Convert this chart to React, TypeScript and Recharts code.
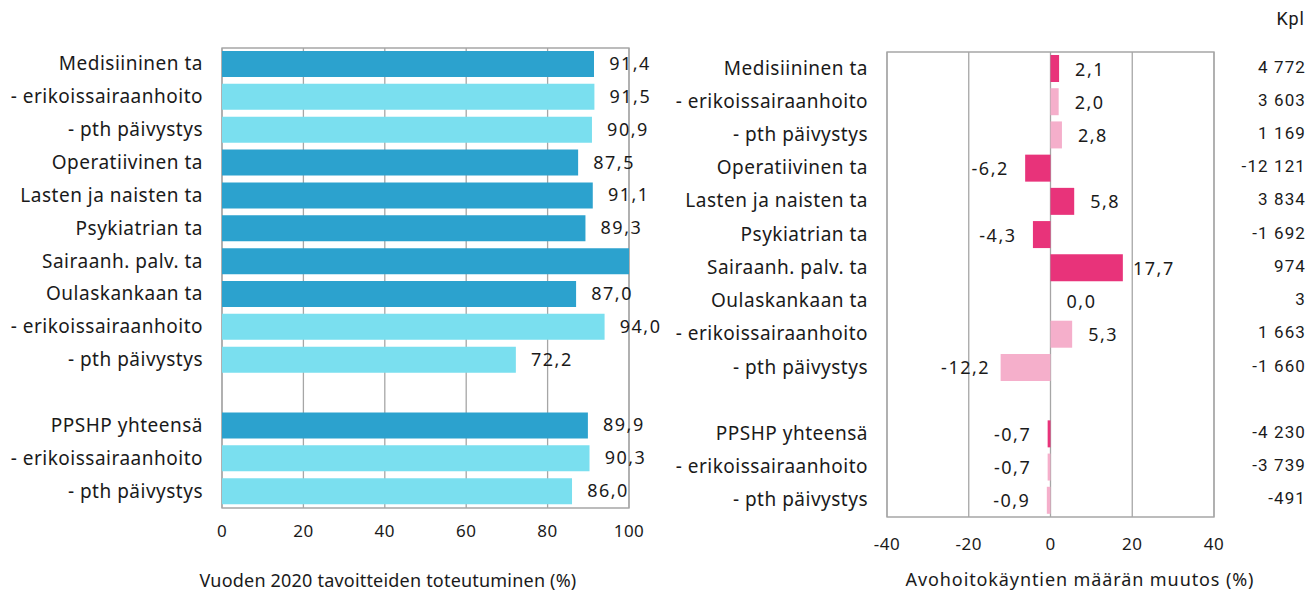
import React from "react";
import {
  BarChart,
  Bar,
  XAxis,
  YAxis,
  CartesianGrid,
  Cell,
  LabelList,
  ReferenceArea,
  Label,
} from "recharts";

// ---- data ----
const categories = [
  "Medisiininen ta",
  "- erikoissairaanhoito",
  "- pth päivystys",
  "Operatiivinen ta",
  "Lasten ja naisten ta",
  "Psykiatrian ta",
  "Sairaanh. palv. ta",
  "Oulaskankaan ta",
  "- erikoissairaanhoito",
  "- pth päivystys",
  "",
  "PPSHP yhteensä",
  "- erikoissairaanhoito",
  "- pth päivystys",
];
const isSubRow = [false, true, true, false, false, false, false, false, true, true, false, false, true, true];
const goalPct: (number | null)[] = [91.4, 91.5, 90.9, 87.5, 91.1, 89.3, 100.5, 87.0, 94.0, 72.2, null, 89.9, 90.3, 86.0];
const changePct: (number | null)[] = [2.1, 2.0, 2.8, -6.2, 5.8, -4.3, 17.7, 0.0, 5.3, -12.2, null, -0.7, -0.7, -0.9];
const kplValues = ["4 772", "3 603", "1 169", "-12 121", "3 834", "-1 692", "974", "3", "1 663", "-1 660", "", "-4 230", "-3 739", "-491"];
const leftTicks = [0, 20, 40, 60, 80, 100];
const rightTicks = [-40, -20, 0, 20, 40];
const leftTitle = "Vuoden 2020 tavoitteiden toteutuminen (%)";
const rightTitle = "Avohoitokäyntien määrän muutos (%)";
const kplHeader = "Kpl";

const rows = categories.map((c, i) => ({
  key: "r" + i,
  name: c,
  sub: isSubRow[i],
  goal: goalPct[i],
  change: changePct[i],
  kpl: kplValues[i],
}));
const nameOf = (k: string) => rows.find((r) => r.key === k)?.name ?? "";
const kplOf = (k: string) => rows.find((r) => r.key === k)?.kpl ?? "";

const FONT = "'Noto Sans', 'Open Sans', sans-serif";
const TXT = "#1a1a1a";
const fmt = (v: number) => v.toFixed(1).replace(".", ",");

const DARK_BLUE = "#2ca2ce";
const LIGHT_BLUE = "#7adfef";
const DARK_PINK = "#e8337a";
const LIGHT_PINK = "#f5afcb";
const GRID = "#a6a6a6";

const CatTick = (props: any) => {
  const { x, y, payload } = props;
  return (
    <text x={x} y={y} dy={6} textAnchor="end" fontFamily={FONT} fontSize={19} letterSpacing={0.5} fill={TXT}>
      {nameOf(payload.value)}
    </text>
  );
};

const KplTick = (props: any) => {
  const { x, y, payload } = props;
  return (
    <text x={x + 92} y={y} dy={4} textAnchor="end" fontFamily="Roboto, sans-serif" fontSize={17} letterSpacing={1.1} fill={TXT}>
      {kplOf(payload.value)}
    </text>
  );
};

const NumTick = (props: any) => {
  const { x, y, payload } = props;
  return (
    <text x={x} y={y} dy={12} textAnchor="middle" fontFamily={FONT} fontSize={17} letterSpacing={0.5} fill={TXT}>
      {payload.value}
    </text>
  );
};

const LeftValueLabel = (props: any) => {
  const { x, y, width, height, value } = props;
  if (value == null || value > 100) return null;
  return (
    <text x={x + width + 36} y={y + height / 2} dy={6} textAnchor="middle" fontFamily={FONT} fontSize={18} letterSpacing={1.5} fill={TXT}>
      {fmt(value)}
    </text>
  );
};

const RightValueLabel = (props: any) => {
  const { x, y, width, height, value } = props;
  if (value == null) return null;
  const neg = value < 0;
  const right = Math.max(x, x + width);
  const left = Math.min(x, x + width);
  const cx = neg ? left - 35 : right + 31;
  return (
    <text x={cx} y={y + height / 2} dy={7} textAnchor="middle" fontFamily={FONT} fontSize={18} letterSpacing={1.5} fill={TXT}>
      {fmt(value)}
    </text>
  );
};

export default function App() {
  return (
    <div style={{ position: "absolute", left: 0, top: 0, width: 1316, height: 597, background: "#fff", overflow: "hidden" }}>
      {/* left chart */}
      <div style={{ position: "absolute", left: 0, top: 0 }}>
        <BarChart
          width={690}
          height={597}
          data={rows}
          layout="vertical"
          margin={{ top: 48, right: 61, left: 0, bottom: 59 }}
          barSize={26}
        >
          <CartesianGrid horizontal={false} vertical stroke={GRID} strokeWidth={1.3} />
          <XAxis
            type="number"
            domain={[0, 100]}
            ticks={leftTicks}
            allowDataOverflow
            axisLine={false}
            tickLine={false}
            tickSize={0}
            tickMargin={17}
            height={30}
            tick={<NumTick />}
          >
            <Label
              content={() => (
                <text x={388} y={587} textAnchor="middle" fontFamily={FONT} fontSize={18} letterSpacing={0.2} fill={TXT}>
                  {leftTitle}
                </text>
              )}
            />
          </XAxis>
          <YAxis
            type="category"
            dataKey="key"
            width={222}
            axisLine={false}
            tickLine={false}
            tickSize={0}
            tickMargin={19}
            interval={0}
            tick={<CatTick />}
          />
          <ReferenceArea x1={0} x2={100} fill="none" stroke={GRID} strokeWidth={1.3} ifOverflow="visible" />
          <Bar dataKey="goal" isAnimationActive={false}>
            {rows.map((r) => (
              <Cell key={r.key} fill={r.sub ? LIGHT_BLUE : DARK_BLUE} />
            ))}
            <LabelList dataKey="goal" content={<LeftValueLabel />} />
          </Bar>
        </BarChart>
      </div>

      {/* right chart */}
      <div style={{ position: "absolute", left: 640, top: 0 }}>
        <BarChart
          width={676}
          height={597}
          data={rows}
          layout="vertical"
          margin={{ top: 52, right: 0, left: 0, bottom: 50 }}
          barSize={27}
        >
          <CartesianGrid horizontal={false} vertical stroke={GRID} strokeWidth={1.3} />
          <XAxis
            type="number"
            domain={[-40, 40]}
            ticks={rightTicks}
            axisLine={false}
            tickLine={false}
            tickSize={0}
            tickMargin={21}
            height={30}
            tick={<NumTick />}
          >
            <Label
              content={() => (
                <text x={440} y={586} textAnchor="middle" fontFamily={FONT} fontSize={18} letterSpacing={0.9} fill={TXT}>
                  {rightTitle}
                </text>
              )}
            />
          </XAxis>
          <YAxis
            yAxisId="cat"
            type="category"
            dataKey="key"
            width={247}
            axisLine={false}
            tickLine={false}
            tickSize={0}
            tickMargin={19}
            interval={0}
            tick={<CatTick />}
          />
          <YAxis
            yAxisId="kpl"
            orientation="right"
            type="category"
            dataKey="key"
            width={102}
            axisLine={false}
            tickLine={false}
            tickSize={0}
            tickMargin={0}
            interval={0}
            tick={<KplTick />}
          >
            <Label
              content={() => (
                <text x={665} y={25} textAnchor="end" fontFamily="Roboto, sans-serif" fontSize={18} letterSpacing={1} fill={TXT}>
                  {kplHeader}
                </text>
              )}
            />
          </YAxis>
          <ReferenceArea yAxisId="cat" x1={-40} x2={40} fill="none" stroke={GRID} strokeWidth={1.3} ifOverflow="visible" />
          <Bar yAxisId="cat" dataKey="change" isAnimationActive={false} minPointSize={0.01}>
            {rows.map((r) => (
              <Cell key={r.key} fill={r.sub ? LIGHT_PINK : DARK_PINK} />
            ))}
            <LabelList dataKey="change" content={<RightValueLabel />} />
          </Bar>
        </BarChart>
      </div>
    </div>
  );
}
